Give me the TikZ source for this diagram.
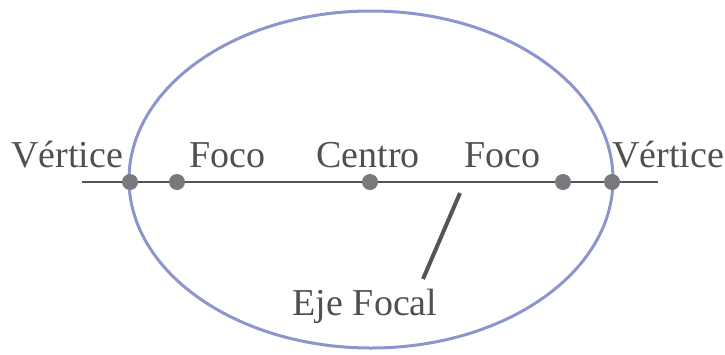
\documentclass[tikz,border=0pt]{standalone}
\usepackage{fontspec}
\setmainfont{Liberation Serif}
\definecolor{ellcol}{RGB}{140,150,205}
\definecolor{linecol}{RGB}{85,85,85}
\definecolor{dotcol}{RGB}{120,120,125}
\definecolor{txtcol}{RGB}{80,80,80}
\begin{document}
\begin{tikzpicture}[x=1pt,y=-1pt,
  lbl/.style={anchor=base,inner sep=0pt,text=txtcol,font=\fontsize{38}{40}\selectfont},
  pt/.style={circle,fill=dotcol,inner sep=0pt,minimum size=16pt}]
\useasboundingbox (0,0) rectangle (725,354);
\draw[ellcol,line width=3pt] (371,179.5) ellipse [x radius=242, y radius=168.5];
\coordinate (L) at (82,182);
\coordinate (R) at (658,182);
\draw[linecol,line width=2.8pt] (L) -- (R);
\node[pt] (v1) at (130,182) {};
\node[pt] (f1) at (177,182) {};
\node[pt] (c) at (370,182) {};
\node[pt] (f2) at (563,182) {};
\node[pt] (v2) at (612,182) {};
\node[lbl] (tv1) at (67,167) {Vértice};
\node[lbl] (tf1) at (227,167) {Foco};
\node[lbl] (tc) at (368,167) {Centro};
\node[lbl] (tf2) at (502,167) {Foco};
\node[lbl] (tv2) at (668,167) {Vértice};
\node[lbl] (eje) at (365,315) {Eje Focal};
\coordinate (a1) at (460,193);
\coordinate (a2) at (423,279);
\draw[linecol,line width=4pt] (a1) -- (a2);
\end{tikzpicture}
\end{document}
